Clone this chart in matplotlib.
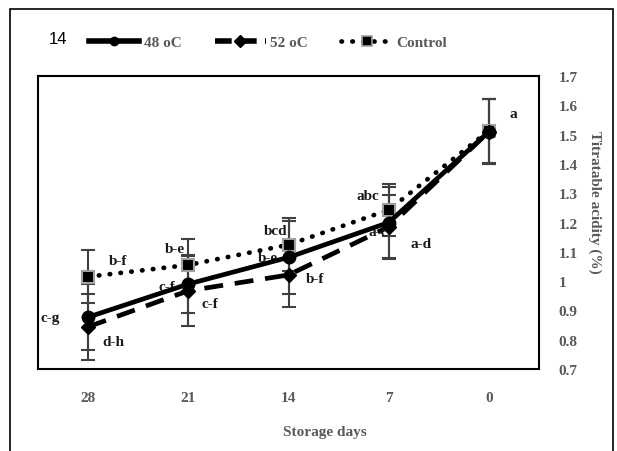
import numpy as np
import matplotlib.pyplot as plt
from matplotlib.patches import Rectangle

days = ["28", "21", "14", "7", "0"]
acid_48 = [0.877, 0.99, 1.081, 1.20, 1.51]
acid_52 = [0.844, 0.967, 1.021, 1.185, 1.51]
acid_ctrl = [1.015, 1.055, 1.124, 1.243, 1.513]
err_48 = [0.113, 0.10, 0.125, 0.12, 0.11]
err_52 = [0.112, 0.12, 0.11, 0.11, 0.11]
err_ctrl = [0.09, 0.09, 0.09, 0.09, 0.11]
let_48 = ["c-g", "c-f", "b-e", "a-c", ""]
let_52 = ["d-h", "c-f", "b-f", "a-d", ""]
let_ctrl = ["b-f", "b-e", "bcd", "abc", "a"]

# label offsets in pixels from the point
off_48 = [(-38, 0), (-21, -2), (-21, 0), (-11, -9), (0, 0)]
off_52 = [(25, -15), (22, -13), (27, -4), (32, -17), (0, 0)]
off_ctrl = [(30, 16), (-13, 16), (-13, 14), (-21, 14), (24, 17)]

plt.rcParams['font.family'] = ['Liberation Serif', 'DejaVu Serif']
gray = '#595959'

fig = plt.figure(figsize=(6.17, 4.52), dpi=100)
ax = fig.add_axes([38/617, 82/452, 501/617, 293/452])
x = np.arange(len(days))

ebk = dict(ecolor='#404040', elinewidth=1.5, capsize=5, capthick=1.5)
ax.errorbar(x, acid_ctrl, yerr=err_ctrl, fmt='none', zorder=1, **ebk)
ax.errorbar(x, acid_48, yerr=err_48, fmt='none', zorder=1, **ebk)
ax.errorbar(x, acid_52, yerr=err_52, fmt='none', zorder=1, **ebk)

l1, = ax.plot(x, acid_48, color='black', lw=3.4, marker='o', ms=9, zorder=4, label='48 oC')
l2, = ax.plot(x, acid_52, color='black', lw=3.4, ls=(0, (4, 2.5)), marker='D', ms=7, zorder=3, label='52 oC')
l3, = ax.plot(x, acid_ctrl, color='black', lw=3.4, ls=(0, (0.1, 2.2)), dash_capstyle='round',
              marker='s', ms=9, mfc='black', mec='#a0a0a0', mew=1.5, zorder=2, label='Control')

for vals, lets, offs in [(acid_48, let_48, off_48), (acid_52, let_52, off_52), (acid_ctrl, let_ctrl, off_ctrl)]:
    for i in range(len(days)):
        if lets[i]:
            ax.annotate(lets[i], (x[i], vals[i]), xytext=offs[i], textcoords='offset pixels',
                        ha='center', va='center', fontsize=11, fontweight='bold', color='#1a1a1a',
                        annotation_clip=False)

ax.set_xlim(-0.5, 4.5)
ax.set_ylim(0.7, 1.7)
ax.set_xticks(x)
ax.set_xticklabels(days)
ax.set_yticks(np.arange(0.7, 1.71, 0.1))
ax.set_yticklabels(["0.7", "0.8", "0.9", "1", "1.1", "1.2", "1.3", "1.4", "1.5", "1.6", "1.7"])
ax.yaxis.tick_right()
ax.tick_params(length=0, labelsize=11, labelcolor=gray, pad=14)
ax.tick_params(axis='x', pad=16)
for t in ax.get_xticklabels() + ax.get_yticklabels():
    t.set_fontweight('bold')
for s in ax.spines.values():
    s.set_linewidth(1.5)

fig.text(325/617, 1 - 433/452, "Storage days", ha='center', va='center',
         fontsize=11, fontweight='bold', color=gray)
fig.text(595/617, 1 - 202/452, "Titratable acidity (%)", ha='center', va='center',
         rotation=270, fontsize=11, fontweight='bold', color=gray)
fig.text(58/617, 1 - 40/452, "14", ha='center', va='center', fontsize=12,
         family=['Liberation Sans', 'DejaVu Sans'])

leg_handles = [
    plt.Line2D([], [], color='black', lw=4, marker='o', ms=6),
    plt.Line2D([], [], color='black', lw=4, ls=(0, (3, 1.5)), marker='D', ms=6),
    plt.Line2D([], [], color='black', lw=3.4, ls=(0, (0.1, 2.2)), dash_capstyle='round',
               marker='s', ms=7, mfc='black', mec='#a0a0a0', mew=1.2),
]
fig.legend(leg_handles, ['48 oC', '52 oC', 'Control'], loc='center',
           bbox_to_anchor=(268/617, 1 - 43/452),
           ncol=3, frameon=False, handlelength=3.3, columnspacing=2.2, handletextpad=0.3,
           prop={'size': 11, 'weight': 'bold'}, labelcolor=gray)

fig.add_artist(Rectangle((10/617, -0.05), 603/617, 1.05 - 10/452, transform=fig.transFigure,
                         fill=False, lw=1.2, ec='black', clip_on=False))

fig.savefig('out.png', dpi=100)
